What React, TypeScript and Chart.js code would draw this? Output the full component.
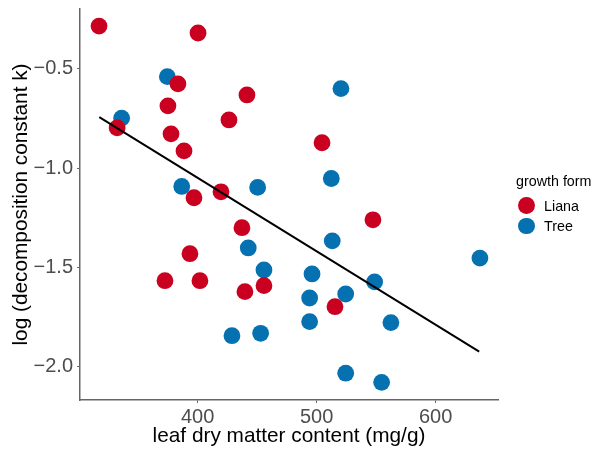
import React, { useEffect, useRef } from "react";
import { Chart, registerables } from "chart.js";

Chart.register(...registerables);

const lianaX = [317.1, 400.3, 383.4, 441.4, 375.0, 426.3, 332.3, 377.6, 504.5, 388.5, 419.6, 396.9, 547.3, 437.2, 393.5, 372.5, 401.9, 439.7, 455.7, 515.4];
const lianaY = [-0.284, -0.319, -0.575, -0.631, -0.686, -0.757, -0.797, -0.827, -0.872, -0.913, -1.119, -1.149, -1.26, -1.3, -1.431, -1.567, -1.567, -1.622, -1.592, -1.698];

const treeX = [374.5, 336.1, 386.6, 450.4, 520.4, 512.3, 442.5, 455.7, 428.8, 452.9, 513.1, 637.2, 496.1, 548.7, 494.1, 524.4, 494.1, 562.4, 524.4, 554.6];
const treeY = [-0.539, -0.748, -1.092, -1.097, -0.599, -1.052, -1.402, -1.513, -1.844, -1.832, -1.366, -1.453, -1.533, -1.573, -1.654, -1.634, -1.773, -1.778, -2.033, -2.079];

const fitX = [317.3, 636.6];
const fitY = [-0.743, -1.924];

const xTicks = [400, 500, 600];
const yTicks = [-2.0, -1.5, -1.0, -0.5];
const yTickLabels = ["\u22122.0", "\u22121.5", "\u22121.0", "\u22120.5"];

const seriesNames = ["Liana", "Tree"];
const seriesColors = ["#CA0020", "#0571B0"];

const FONT = "'Liberation Sans', Arial, Helvetica, sans-serif";

export default function App() {
  const ref = useRef<HTMLCanvasElement | null>(null);

  useEffect(() => {
    if (!ref.current) return;
    const toPts = (xs: number[], ys: number[]) => xs.map((x, i) => ({ x, y: ys[i] }));
    const chart = new Chart(ref.current, {
      type: "scatter",
      data: {
        datasets: [
          {
            type: "line",
            label: "fit",
            data: toPts(fitX, fitY),
            borderColor: "#000000",
            borderWidth: 2,
            pointRadius: 0,
            showLine: true,
            fill: false,
            order: 0,
          } as any,
          {
            label: seriesNames[0],
            data: toPts(lianaX, lianaY),
            backgroundColor: seriesColors[0],
            borderWidth: 0,
            pointRadius: 8.4,
            pointHoverRadius: 8.4,
            order: 1,
          },
          {
            label: seriesNames[1],
            data: toPts(treeX, treeY),
            backgroundColor: seriesColors[1],
            borderWidth: 0,
            pointRadius: 8.4,
            pointHoverRadius: 8.4,
            order: 2,
          },
        ],
      },
      options: {
        animation: false,
        responsive: false,
        events: [],
        layout: { padding: { top: 9, right: 96, bottom: 0, left: 0 } },
        plugins: { legend: { display: false }, tooltip: { enabled: false } },
        scales: {
          x: {
            type: "linear",
            min: 301.1,
            max: 652.4,
            afterBuildTicks: (s: any) => {
              s.ticks = xTicks.map((v) => ({ value: v }));
            },
            afterFit: (s: any) => {
              s.height = 50;
              s.paddingLeft = 0;
              s.paddingRight = 0;
            },
            ticks: {
              color: "#4D4D4D",
              font: { family: FONT, size: 20 },
              padding: 2,
              callback: (v: any) => String(v),
            },
            grid: { display: true, drawOnChartArea: false, drawTicks: true, tickLength: 3, color: "#666666", lineWidth: 1 },
            border: { display: true, color: "#666666", width: 1.5 },
            title: {
              display: true,
              text: "leaf dry matter content (mg/g)",
              color: "#000000",
              font: { family: FONT, size: 20.8 },
              padding: { top: 0, bottom: 1 },
            },
          },
          y: {
            type: "linear",
            min: -2.168,
            max: -0.198,
            afterBuildTicks: (s: any) => {
              s.ticks = yTicks.map((v) => ({ value: v }));
            },
            afterFit: (s: any) => {
              s.width = 80;
              s.paddingTop = 0;
              s.paddingBottom = 0;
            },
            ticks: {
              color: "#4D4D4D",
              font: { family: FONT, size: 20 },
              padding: 4,
              callback: (v: any) => {
                const i = yTicks.findIndex((t) => Math.abs(t - Number(v)) < 1e-9);
                return i >= 0 ? yTickLabels[i] : "";
              },
            },
            grid: { display: true, drawOnChartArea: false, drawTicks: true, tickLength: 3, color: "#666666", lineWidth: 1 },
            border: { display: true, color: "#666666", width: 1.5 },
            title: {
              display: true,
              text: "log (decomposition constant k)",
              color: "#000000",
              font: { family: FONT, size: 20.8 },
              padding: { top: 9, bottom: 0 },
            },
          },
        },
      },
    });
    return () => chart.destroy();
  }, []);

  const legendText: React.CSSProperties = {
    position: "absolute",
    fontFamily: FONT,
    fontSize: "14.3px",
    color: "#000000",
    lineHeight: "16px",
    whiteSpace: "nowrap",
  };

  return (
    <div style={{ position: "fixed", left: 0, top: 0, width: 594, height: 450, background: "#ffffff" }}>
      <canvas ref={ref} width={594} height={450} style={{ display: "block", width: 594, height: 450 }} />
      <div style={{ ...legendText, left: 516, top: 173 }}>growth form</div>
      {seriesNames.map((name, i) => (
        <React.Fragment key={name}>
          <div
            style={{
              position: "absolute",
              left: 518.3,
              top: 197.3 + i * 20.3,
              width: 16.8,
              height: 16.8,
              borderRadius: "50%",
              background: seriesColors[i],
            }}
          />
          <div style={{ ...legendText, left: 544, top: 198 + i * 20.3 }}>{name}</div>
        </React.Fragment>
      ))}
    </div>
  );
}
